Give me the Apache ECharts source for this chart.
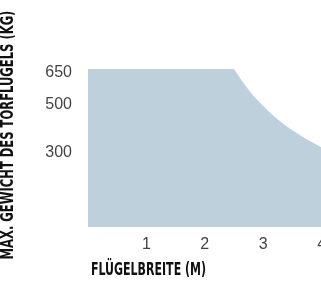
<!DOCTYPE html>
<html lang="de">

<head>
    <meta charset="UTF-8">
    <title>Flügelbreite</title>
    <script src="https://cdn.jsdelivr.net/npm/echarts@6/dist/echarts.min.js"></script>
    <style>
        html, body { margin: 0; padding: 0; background: #fff; }
    </style>
</head>

<body>
    <div id="main" style="width: 321px;height:282px;"></div>
</body>
<script type="text/javascript">

    // Flügelbreite (m) und max. Gewicht (kg)
    var breite = [0, 2.5, 2.6, 2.7, 2.8, 2.9, 3.0, 3.1, 3.2, 3.3, 3.4, 3.5, 3.6, 3.7, 3.8, 3.9, 4.0];
    var gewicht = [650, 650, 613, 579, 548, 520, 495, 471, 450, 430, 411, 394, 378, 363, 349, 336, 323];
    var yTicks = [300, 500, 650];
    var xTicks = [1, 2, 3, 4];
    var yTitel = 'MAX. GEWICHT DES TORFLÜGELS (KG)';
    var xTitel = 'FLÜGELBREITE (M)';

    var punkte = [];
    for (var i = 0; i < breite.length; i++) {
        punkte.push([breite[i], gewicht[i]]);
    }

    var titelFont = 'bold 17px "DejaVu Sans Condensed", "DejaVu Sans", sans-serif';

    var myChart = echarts.init(document.getElementById('main'), null, { renderer: 'canvas' });
    var option = {
        animation: false,
        grid: {
            left: 88,
            right: -0.6,
            top: 69,
            bottom: 55,
            containLabel: false,
            outerBoundsMode: 'none'
        },
        xAxis: {
            type: 'value',
            min: 0,
            max: 4,
            axisLine: { show: false },
            axisTick: { show: false },
            splitLine: { show: false },
            axisLabel: {
                customValues: xTicks,
                margin: 10,
                fontFamily: '"Liberation Sans", Arial, sans-serif',
                fontSize: 16,
                color: '#444'
            }
        },
        yAxis: {
            type: 'value',
            min: -10,
            max: 650,
            axisLine: { show: false },
            axisTick: { show: false },
            splitLine: { show: false },
            axisLabel: {
                customValues: yTicks,
                margin: 16,
                fontFamily: '"Liberation Sans", Arial, sans-serif',
                fontSize: 16,
                color: '#444',
                formatter: function (v) {
                    // oberster Wert sitzt im Original etwas tiefer
                    return v === 650 ? '{t|650}' : String(v);
                },
                rich: {
                    t: {
                        padding: [7, 0, 0, 0],
                        fontFamily: '"Liberation Sans", Arial, sans-serif',
                        fontSize: 16,
                        color: '#444'
                    }
                }
            }
        },
        graphic: [
            {
                type: 'text',
                x: 9,
                y: 135,
                rotation: Math.PI / 2,
                scaleX: 0.755,
                style: {
                    text: yTitel,
                    font: titelFont,
                    fill: '#111',
                    align: 'center',
                    verticalAlign: 'middle'
                }
            },
            {
                type: 'text',
                x: 91,
                y: 271,
                scaleX: 0.72,
                style: {
                    text: xTitel,
                    font: titelFont,
                    fill: '#111',
                    align: 'left',
                    verticalAlign: 'middle'
                }
            }
        ],
        series: [{
            type: 'line',
            data: punkte,
            smooth: false,
            symbol: 'none',
            lineStyle: { width: 0 },
            areaStyle: { color: '#bdd0db', opacity: 1, origin: 'start' }
        }]
    };
    myChart.setOption(option);

</script>

</html>
